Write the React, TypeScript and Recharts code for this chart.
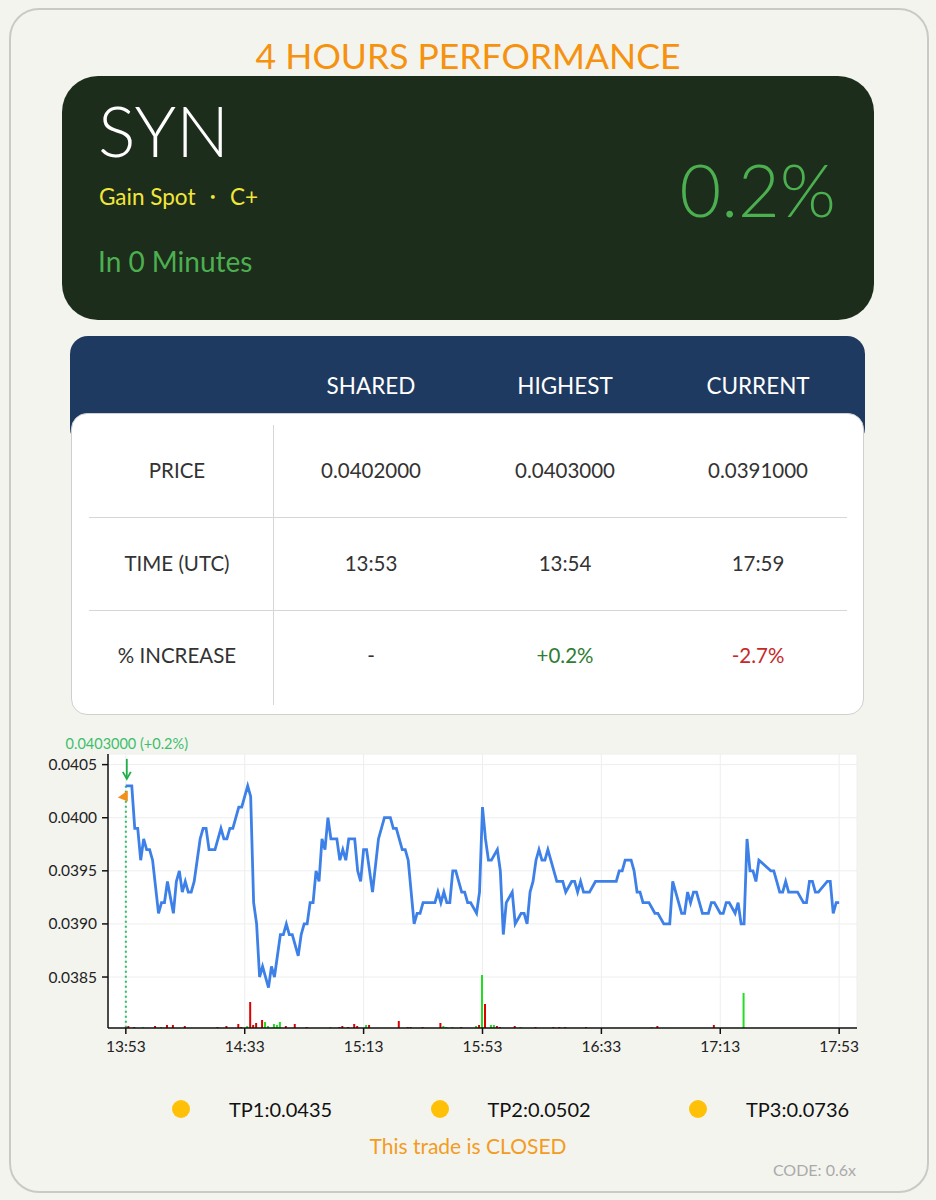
import React from 'react';
import { ComposedChart, Line, Bar, XAxis, YAxis, CartesianGrid, ReferenceLine, ReferenceDot } from 'recharts';

const FONT = 'Lato, "Noto Sans", sans-serif';

// minutes after 13:53 (UTC)
const priceTimes = [
  0, 2, 3, 4, 5, 6, 7, 8, 9, 11, 12, 13, 14, 16, 17, 18, 19, 20, 21, 22, 23, 25, 26, 27, 28, 30, 32, 33, 34, 35, 36,
  38, 39, 40, 41, 42, 43, 44, 45, 46, 48, 49, 50, 52, 53, 54, 55, 56, 58, 59, 60, 61, 62, 63, 64, 65, 66, 67, 68, 69,
  71, 72, 73, 74, 75, 77, 78, 79, 80, 81, 83, 85, 87, 89, 90, 91, 93, 94, 95, 97, 98, 99, 100, 104, 105, 106, 107, 108,
  109, 110, 111, 113, 114, 115, 116, 118, 119, 120, 121, 122, 123, 125, 126, 127, 128, 130, 131, 133, 134, 135, 136,
  137, 138, 139, 140, 141, 142, 145, 147, 148, 150, 151, 152, 153, 154, 156, 158, 165, 166, 167, 168, 170, 171, 172,
  173, 174, 175, 176, 178, 179, 181, 183, 184, 187, 188, 189, 190, 191, 192, 194, 196, 197, 198, 200, 201, 202, 203,
  205, 206, 207, 208, 209, 210, 211, 212, 213, 217, 218, 219, 220, 221, 222, 223, 224, 226, 228, 229, 230, 231, 232,
  233, 236, 237, 238, 239, 240,
];
const priceValues = [
  0.0403, 0.0403, 0.0399, 0.0399, 0.0396, 0.0398, 0.0397, 0.0397, 0.0396, 0.0391, 0.0392, 0.0392, 0.0394, 0.0391,
  0.0394, 0.0395, 0.0393, 0.0394, 0.0393, 0.0393, 0.0394, 0.0398, 0.0399, 0.0399, 0.0397, 0.0397, 0.0399, 0.0398,
  0.0398, 0.0399, 0.0399, 0.0401, 0.0401, 0.0402, 0.0403, 0.0402, 0.0392, 0.039, 0.0385, 0.0386, 0.0384, 0.0386,
  0.0385, 0.0389, 0.0389, 0.039, 0.0389, 0.0389, 0.0387, 0.0389, 0.039, 0.039, 0.0392, 0.0392, 0.0395, 0.0394,
  0.0398, 0.0397, 0.04, 0.0398, 0.0398, 0.0396, 0.0397, 0.0396, 0.0398, 0.0398, 0.0395, 0.0394, 0.0397, 0.0397,
  0.0393, 0.0398, 0.04, 0.04, 0.0399, 0.0399, 0.0397, 0.0397, 0.0396, 0.039, 0.0391, 0.0391, 0.0392, 0.0392, 0.0393,
  0.0392, 0.0393, 0.0392, 0.0392, 0.0395, 0.0395, 0.0393, 0.0393, 0.0392, 0.0392, 0.0391, 0.0393, 0.0401, 0.0398,
  0.0396, 0.0396, 0.0397, 0.0395, 0.0389, 0.0392, 0.0393, 0.039, 0.0391, 0.0391, 0.039, 0.0393, 0.0394, 0.0396,
  0.0397, 0.0396, 0.0396, 0.0397, 0.0394, 0.0394, 0.0393, 0.0394, 0.0394, 0.0393, 0.0394, 0.0393, 0.0393, 0.0394,
  0.0394, 0.0395, 0.0395, 0.0396, 0.0396, 0.0395, 0.0393, 0.0393, 0.0392, 0.0392, 0.0392, 0.0391, 0.0391, 0.039,
  0.039, 0.0394, 0.0391, 0.0391, 0.0393, 0.0392, 0.0393, 0.0393, 0.0391, 0.0391, 0.0392, 0.0392, 0.0391, 0.0391,
  0.0392, 0.0392, 0.0391, 0.0392, 0.039, 0.039, 0.0398, 0.0395, 0.0395, 0.0394, 0.0396, 0.0395, 0.0395, 0.0394,
  0.0393, 0.0393, 0.0394, 0.0393, 0.0393, 0.0393, 0.0392, 0.0392, 0.0394, 0.0394, 0.0393, 0.0393, 0.0394, 0.0394,
  0.0391, 0.0392, 0.0392, 0.0393, 0.0393,
];

const volumeTimes = [
  1, 3, 6, 10, 12, 14, 16, 20, 31, 34, 38, 39, 41, 42, 43, 44, 46, 47, 48, 50, 51, 52, 54, 57, 61, 69, 72, 73, 75, 77,
  78, 81, 82, 92, 95, 96, 100, 106, 107, 108, 110, 113, 118, 119, 120, 121, 123, 124, 125, 126, 131, 133, 138, 144,
  146, 148, 155, 177, 179, 198, 208,
];
const volumeValues = [
  200, 100, 100, 200, 100, 300, 300, 200, 100, 200, 400, 100, 200, 2600, 300, 500, 800, 600, 200, 400, 300, 600, 200,
  400, 100, 100, 100, 200, 100, 400, 200, 300, 300, 700, 100, 100, 100, 500, 200, 100, 100, 100, 200, 300, 5300, 2400,
  300, 300, 200, 100, 200, 100, 100, 100, 100, 100, 100, 100, 200, 300, 3500,
];
const volumeSides = [
  'd', 'd', 'u', 'd', 'u', 'd', 'd', 'd', 'd', 'd', 'd', 'd', 'u', 'd', 'd', 'd', 'd', 'u', 'u', 'u', 'u', 'u', 'd',
  'd', 'd', 'u', 'd', 'd', 'd', 'd', 'd', 'u', 'd', 'd', 'd', 'd', 'd', 'd', 'u', 'u', 'u', 'd', 'u', 'd', 'u', 'd',
  'u', 'u', 'd', 'd', 'd', 'u', 'd', 'd', 'd', 'd', 'd', 'u', 'd', 'd', 'u',
];

const xTicks = [0, 40, 80, 120, 160, 200, 240];
const yTicks = [0.0385, 0.039, 0.0395, 0.04, 0.0405];
const startMinuteOfDay = 13 * 60 + 53;

const sharedPrice = 0.0402;
const sharedTime = 0;
const highestPrice = 0.0403;
const highestTime = 1;
const highestLabel = '0.0403000 (+0.2%)';

const tableHeaders = ['SHARED', 'HIGHEST', 'CURRENT'];
const tableRowLabels = ['PRICE', 'TIME (UTC)', '% INCREASE'];
const tableCells = [
  ['0.0402000', '0.0403000', '0.0391000'],
  ['13:53', '13:54', '17:59'],
  ['-', '+0.2%', '-2.7%'],
];
const targets = ['TP1:0.0435', 'TP2:0.0502', 'TP3:0.0736'];

const fmtTime = (t: number) => {
  const m = startMinuteOfDay + t;
  const h = Math.floor(m / 60);
  const mm = m % 60;
  return `${h}:${mm < 10 ? '0' : ''}${mm}`;
};

const buildData = () => {
  const map = new Map<number, any>();
  priceTimes.forEach((t, i) => {
    const r = map.get(t) || { t };
    r.price = priceValues[i];
    map.set(t, r);
  });
  volumeTimes.forEach((t, i) => {
    const r = map.get(t) || { t };
    if (volumeSides[i] === 'u') r.volUp = volumeValues[i];
    else r.volDown = volumeValues[i];
    map.set(t, r);
  });
  return Array.from(map.values()).sort((a, b) => a.t - b.t);
};
const chartData = buildData();

const Txt = (p: { x: number; y: number; w: number; align?: any; size: number; color: string; weight?: number; children: any; lh?: number }) => (
  <div
    style={{
      position: 'absolute',
      left: p.x,
      top: p.y - (p.lh || p.size * 1.2) / 2,
      width: p.w,
      height: p.lh || p.size * 1.2,
      lineHeight: `${p.lh || p.size * 1.2}px`,
      textAlign: p.align || 'left',
      fontSize: p.size,
      color: p.color,
      fontWeight: p.weight || 400,
      whiteSpace: 'nowrap',
    }}
  >
    {p.children}
  </div>
);

const SharedMarker = (props: any) => {
  const { cx, cy } = props;
  return (
    <polygon
      points={`${cx - 8},${cy + 1} ${cx + 2},${cy - 6} ${cx + 2},${cy + 5}`}
      fill="#f2901e"
    />
  );
};

const HighMarker = (props: any) => {
  const { cx, cy } = props;
  const x = cx - 2;
  return (
    <g>
      <text x={x} y={cy - 37} textAnchor="middle" fontSize={14.5} fill="#3cbf6a" fontFamily={FONT}>
        {highestLabel}
      </text>
      <line x1={x} y1={cy - 27} x2={x} y2={cy - 8} stroke="#1fae4a" strokeWidth={1.8} />
      <polyline points={`${x - 4},${cy - 14} ${x},${cy - 7} ${x + 4},${cy - 14}`} fill="none" stroke="#1fae4a" strokeWidth={1.8} />
    </g>
  );
};

export default function App() {
  const colX = [371, 565, 758];
  const rowY = [470, 563, 655];
  return (
    <div
      style={{
        position: 'absolute',
        left: 0,
        top: 0,
        width: 936,
        height: 1200,
        background: '#f4f4ef',
        fontFamily: FONT,
        overflow: 'hidden',
      }}
    >
      <div
        style={{
          position: 'absolute',
          left: 9,
          top: 8,
          width: 916,
          height: 1181,
          border: '2px solid #c9c9c6',
          borderRadius: 30,
        }}
      />
      <Txt x={0} y={56} w={936} align="center" size={35.5} color="#f5920f">4 HOURS PERFORMANCE</Txt>

      <div
        style={{
          position: 'absolute',
          left: 62,
          top: 76,
          width: 812,
          height: 244,
          background: '#1c2d1b',
          borderRadius: 36,
        }}
      />
      <Txt x={98} y={130} w={300} size={70} weight={300} color="#ffffff">SYN</Txt>
      <Txt x={99} y={196} w={300} size={22.5} color="#f3e63a">Gain Spot ・ C+</Txt>
      <Txt x={98} y={262} w={300} size={28} color="#4caf50">In 0 Minutes</Txt>
      <Txt x={540} y={189} w={296} align="right" size={72} weight={300} color="#4caf50">0.2%</Txt>

      <div
        style={{
          position: 'absolute',
          left: 70,
          top: 336,
          width: 795,
          height: 110,
          background: '#1f3a60',
          borderRadius: 18,
        }}
      />
      {tableHeaders.map((h, i) => (
        <Txt key={h} x={colX[i] - 100} y={385} w={200} align="center" size={22.5} color="#ffffff">{h}</Txt>
      ))}
      <div
        style={{
          position: 'absolute',
          left: 71,
          top: 413,
          width: 791,
          height: 300,
          background: '#ffffff',
          border: '1px solid #cfcfcf',
          borderRadius: 16,
        }}
      />
      <div style={{ position: 'absolute', left: 273, top: 425, width: 1, height: 280, background: '#d6d6d6' }} />
      <div style={{ position: 'absolute', left: 89, top: 517, width: 758, height: 1, background: '#d6d6d6' }} />
      <div style={{ position: 'absolute', left: 89, top: 610, width: 758, height: 1, background: '#d6d6d6' }} />
      {tableRowLabels.map((l, r) => (
        <Txt key={l} x={77} y={rowY[r]} w={200} align="center" size={20.5} color="#333">{l}</Txt>
      ))}
      {tableCells.map((row, r) =>
        row.map((c, i) => (
          <Txt
            key={`${r}-${i}`}
            x={colX[i] - 100}
            y={rowY[r]}
            w={200}
            align="center"
            size={20.5}
            color={r === 2 ? (c.startsWith('+') ? '#2e7d32' : c.startsWith('-') && c.length > 1 ? '#c62828' : '#333') : '#333'}
          >
            {c}
          </Txt>
        ))
      )}

      <div style={{ position: 'absolute', left: 0, top: 730 }}>
        <ComposedChart
          width={936}
          height={340}
          data={chartData}
          margin={{ top: 24, right: 79, bottom: 0, left: 0 }}
        >
          <CartesianGrid yAxisId="price" stroke="#eeeeee" fill="#ffffff" />
          <XAxis
            dataKey="t"
            type="number"
            domain={[-6, 246]}
            ticks={xTicks}
            tickFormatter={fmtTime}
            height={42}
            tickSize={6}
            tickMargin={7}
            stroke="#111"
            strokeWidth={1.5}
            tick={{ fill: '#222', fontSize: 15.5, fontFamily: FONT }}
            allowDataOverflow
          />
          <YAxis
            yAxisId="price"
            type="number"
            domain={[0.03802, 0.0406]}
            ticks={yTicks}
            tickFormatter={(v: number) => v.toFixed(4)}
            width={108}
            tickSize={6}
            tickMargin={5}
            stroke="#111"
            strokeWidth={1.5}
            tick={{ fill: '#222', fontSize: 15.5, fontFamily: FONT }}
            allowDataOverflow
          />
          <YAxis yAxisId="vol" hide domain={[0, 27400]} allowDataOverflow />
          <Bar yAxisId="vol" dataKey="volUp" stackId="v" fill="#22dd22" barSize={2} isAnimationActive={false} />
          <Bar yAxisId="vol" dataKey="volDown" stackId="v" fill="#dd0000" barSize={2} isAnimationActive={false} />
          <ReferenceLine
            yAxisId="price"
            segment={[{ x: sharedTime, y: highestPrice }, { x: sharedTime, y: 0.03802 }]}
            stroke="#2fbf63"
            strokeWidth={2}
            strokeDasharray="2 3"
          />
          <Line
            yAxisId="price"
            dataKey="price"
            type="linear"
            stroke="#3d80e8"
            strokeWidth={2.8}
            dot={false}
            connectNulls
            isAnimationActive={false}
          />
          <ReferenceDot yAxisId="price" x={sharedTime} y={sharedPrice} shape={SharedMarker} ifOverflow="visible" />
          <ReferenceDot yAxisId="price" x={highestTime} y={highestPrice} shape={HighMarker} ifOverflow="visible" />
        </ComposedChart>
      </div>

      {targets.map((t, i) => (
        <React.Fragment key={t}>
          <div
            style={{
              position: 'absolute',
              left: 172 + i * 258.5,
              top: 1100,
              width: 18,
              height: 18,
              borderRadius: 9,
              background: '#ffc107',
            }}
          />
          <Txt x={229 + i * 258.5} y={1109} w={200} size={20} color="#111">{t}</Txt>
        </React.Fragment>
      ))}
      <Txt x={0} y={1146} w={936} align="center" size={21} color="#f39c1e">This trade is CLOSED</Txt>
      <Txt x={556} y={1170} w={300} align="right" size={16} color="#aaaaaa">CODE: 0.6x</Txt>
    </div>
  );
}
